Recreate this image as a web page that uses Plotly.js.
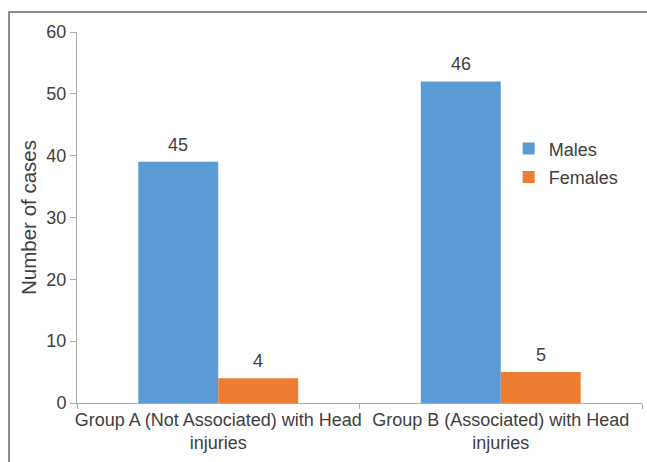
<!DOCTYPE html>
<html>
<head>
<meta charset="utf-8">
<script src="https://cdn.plot.ly/plotly-3.0.1.min.js"></script>
<style>
  html, body { margin: 0; padding: 0; background: #fff; }
  #wrap { position: relative; width: 647px; height: 462px; overflow: hidden; }
  #chart { position: absolute; left: 0; top: 0; width: 647px; height: 462px; }
  #frame { position: absolute; left: 8px; top: 11px; width: 650px; height: 460px;
           border-left: 2px solid #8a8a8a; border-top: 2px solid #8a8a8a; pointer-events: none; }
</style>
</head>
<body>
<div id="wrap">
  <div id="chart"></div>
  <div id="frame"></div>
</div>
<script>
const categories = [
  "Group A (Not Associated) with Head<br>injuries",
  "Group B (Associated) with Head<br>injuries"
];
const malesValues = [39, 52];
const femalesValues = [4, 5];
const malesLabels = ["45", "46"];
const femalesLabels = ["4", "5"];
const yTicks = [0, 10, 20, 30, 40, 50, 60];

const textColor = "#404040";
const fontFamily = "'Liberation Sans', Arial, sans-serif";
const axisColor = "#ababab";
const fs = 18;
const bargap = 0.434;
const halfBar = (1 - bargap) / 4;

const traces = [
  { type: "bar", name: "Males", x: categories, y: malesValues,
    marker: { color: "#5B9BD5" }, legendgroup: "m", hoverinfo: "skip" },
  { type: "bar", name: "Females", x: categories, y: femalesValues,
    marker: { color: "#ED7D31" }, legendgroup: "f", hoverinfo: "skip" }
];

const annotations = [];
categories.forEach((c, i) => {
  annotations.push({ x: i - halfBar, y: malesValues[i], xref: "x", yref: "y",
    text: malesLabels[i], showarrow: false, yanchor: "bottom", yshift: 5,
    font: { size: fs, color: textColor, family: fontFamily } });
  annotations.push({ x: i + halfBar, y: femalesValues[i], xref: "x", yref: "y",
    text: femalesLabels[i], showarrow: false, yanchor: "bottom", yshift: 5,
    font: { size: fs, color: textColor, family: fontFamily } });
});

const layout = {
  width: 647, height: 462,
  margin: { l: 77, r: 5, t: 32, b: 59, pad: 0 },
  paper_bgcolor: "#ffffff", plot_bgcolor: "#ffffff",
  font: { family: fontFamily, size: fs, color: textColor },
  barmode: "group", bargap: bargap, bargroupgap: 0,
  showlegend: true,
  legend: { x: 0.764, y: 0.735, xanchor: "left", yanchor: "top",
    font: { size: fs, color: textColor }, tracegroupgap: 2,
    traceorder: "grouped", bgcolor: "rgba(0,0,0,0)" },
  xaxis: { type: "category", showline: true, linecolor: axisColor, linewidth: 1,
    ticks: "outside", tickson: "boundaries", ticklen: 5, tickcolor: axisColor,
    tickangle: 0, automargin: false,
    showgrid: false, zeroline: false, tickfont: { size: fs, color: textColor } },
  yaxis: { range: [0, 60], tickvals: yTicks, showline: true, linecolor: axisColor, linewidth: 1,
    ticks: "outside", ticklen: 6, tickcolor: axisColor, showgrid: false, zeroline: false,
    tickfont: { size: fs, color: textColor },
    title: { text: "Number of cases", font: { size: 20.5, color: textColor }, standoff: 4 } },
  annotations: annotations
};

Plotly.newPlot("chart", traces, layout, { displayModeBar: false, staticPlot: true });
</script>
</body>
</html>
